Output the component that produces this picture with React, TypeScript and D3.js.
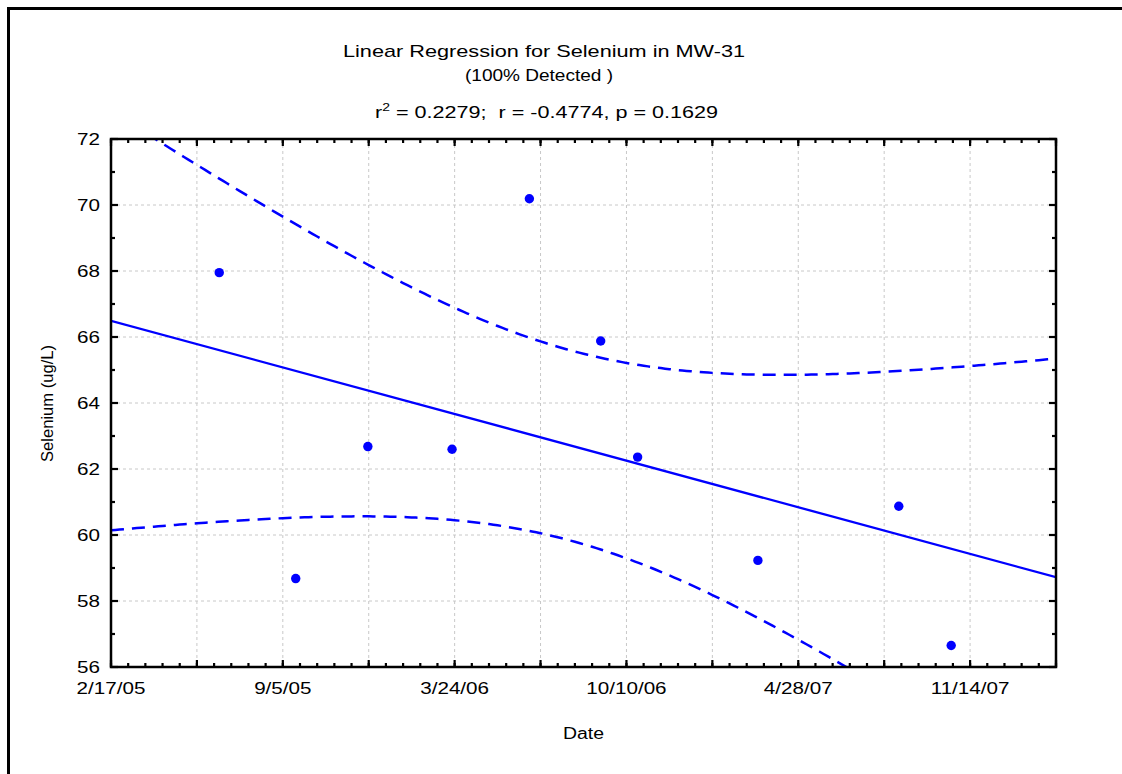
import React from 'react';
import * as d3 from 'd3';

// ---- data ----
const sampleDates = ["6/23/05", "9/20/05", "12/13/05", "3/21/06", "6/19/06", "9/10/06", "10/23/06", "3/12/07", "8/23/07", "10/23/07"];
const seleniumValues = [67.95, 58.68, 62.68, 62.6, 70.19, 65.88, 62.36, 59.23, 60.87, 56.65];
const xTickLabels = ["2/17/05", "9/5/05", "3/24/06", "10/10/06", "4/28/07", "11/14/07"];
const xDomainLabels = ["2/17/05", "2/22/08"];
const yTickValues = [56, 58, 60, 62, 64, 66, 68, 70, 72];
const yMinorValues = [57, 59, 61, 63, 65, 67, 69, 71];
const titleLine1 = "Linear Regression for Selenium in MW-31";
const titleLine2 = "(100% Detected )";
const statR2 = "0.2279";
const statR = "-0.4774";
const statP = "0.1629";
const tCritical = 2.306; // t(0.975, df = 8)

const FONT = "'Liberation Sans', Arial, Helvetica, sans-serif";
const BLUE = "#0000ff";

export default function App() {
  const W = 1122, H = 774;
  const L = 111, R = 1056, T = 139, B = 667;
  const parse = d3.utcParse("%m/%d/%y");
  const domain = xDomainLabels.map((s) => parse(s) as Date);
  const start = domain[0];
  const x = d3.scaleUtc().domain(domain).range([L, R]);
  const y = d3.scaleLinear().domain([56, 72]).range([B, T]);

  const dayMs = 864e5;
  const pts = sampleDates.map((s, i) => ({ date: parse(s) as Date, v: seleniumValues[i] }));
  const xs = pts.map((p) => (p.date.getTime() - start.getTime()) / dayMs);
  const ys = pts.map((p) => p.v);
  const n = xs.length;
  const mx = d3.mean(xs) as number;
  const my = d3.mean(ys) as number;
  const sxx = d3.sum(xs, (v) => (v - mx) ** 2);
  const sxy = d3.sum(xs.map((v, i) => (v - mx) * (ys[i] - my)));
  const slope = sxy / sxx;
  const icpt = my - slope * mx;
  const sse = d3.sum(xs.map((v, i) => (ys[i] - (icpt + slope * v)) ** 2));
  const s = Math.sqrt(sse / (n - 2));

  const totalDays = (domain[1].getTime() - start.getTime()) / dayMs;
  const samples = d3.range(0, totalDays + 0.001, totalDays / 220);
  const fit = (d: number) => icpt + slope * d;
  const hw = (d: number) => tCritical * s * Math.sqrt(1 / n + (d - mx) ** 2 / sxx);
  const dayToDate = (d: number) => new Date(start.getTime() + d * dayMs);

  const line = d3.line<[number, number]>().x((d) => d[0]).y((d) => d[1]);
  const fitPath = line([[x(dayToDate(0)), y(fit(0))], [x(dayToDate(totalDays)), y(fit(totalDays))]]);
  const upperPath = line(samples.map((d) => [x(dayToDate(d)), y(fit(d) + hw(d))] as [number, number]));
  const lowerPath = line(samples.map((d) => [x(dayToDate(d)), y(fit(d) - hw(d))] as [number, number]));

  const majorX = d3.range(0, totalDays + 0.5, 100).map((k) => d3.utcDay.offset(start, k));
  const minorX = d3.range(0, totalDays + 0.5, 20).map((k) => d3.utcDay.offset(start, k));
  const labelDates = xTickLabels.map((s) => parse(s) as Date);

  const MAJ = 7, MIN = 4;

  return (
    <svg width={W} height={H} style={{ position: 'absolute', left: 0, top: 0, background: '#fff' }} fontFamily={FONT}>
      <rect x={0} y={0} width={W} height={H} fill="#fff" />
      <rect x={8.5} y={8.5} width={1300} height={1000} fill="none" stroke="#000" strokeWidth={3} />
      <defs>
        <clipPath id="plotClip">
          <rect x={L} y={T} width={R - L} height={B - T} />
        </clipPath>
      </defs>

      {/* grid */}
      <g stroke="#c8c8c8" strokeWidth={1} strokeDasharray="3,3">
        {majorX.map((d, i) => (
          <line key={'gx' + i} x1={x(d)} x2={x(d)} y1={T} y2={B} />
        ))}
        {yTickValues.map((v) => (
          <line key={'gy' + v} x1={L} x2={R} y1={y(v)} y2={y(v)} />
        ))}
      </g>

      {/* regression + bands */}
      <g clipPath="url(#plotClip)" fill="none" stroke={BLUE}>
        <path d={fitPath || ''} strokeWidth={2.3} />
        <path d={upperPath || ''} strokeWidth={2.5} strokeDasharray="13,8" />
        <path d={lowerPath || ''} strokeWidth={2.5} strokeDasharray="13,8" />
      </g>

      {/* points */}
      <g fill={BLUE}>
        {pts.map((p, i) => (
          <circle key={'p' + i} cx={x(p.date)} cy={y(p.v)} r={4.7} />
        ))}
      </g>

      {/* ticks */}
      <g stroke="#000" strokeWidth={2.2}>
        {majorX.map((d, i) => (
          <g key={'mx' + i}>
            <line x1={x(d)} x2={x(d)} y1={B} y2={B - MAJ} />
            <line x1={x(d)} x2={x(d)} y1={T} y2={T + MAJ} />
          </g>
        ))}
        {minorX.map((d, i) => (
          <g key={'nx' + i}>
            <line x1={x(d)} x2={x(d)} y1={B} y2={B - MIN} />
            <line x1={x(d)} x2={x(d)} y1={T} y2={T + MIN} />
          </g>
        ))}
        {yTickValues.map((v) => (
          <g key={'my' + v}>
            <line x1={L} x2={L + MAJ} y1={y(v)} y2={y(v)} />
            <line x1={R} x2={R - MAJ} y1={y(v)} y2={y(v)} />
          </g>
        ))}
        {yMinorValues.map((v) => (
          <g key={'ny' + v}>
            <line x1={L} x2={L + MIN} y1={y(v)} y2={y(v)} />
            <line x1={R} x2={R - MIN} y1={y(v)} y2={y(v)} />
          </g>
        ))}
      </g>

      {/* frame */}
      <rect x={L} y={T} width={R - L} height={B - T} fill="none" stroke="#000" strokeWidth={2.5} />

      {/* tick labels */}
      <g fontSize={16} fill="#000">
        {labelDates.map((d, i) => (
          <text key={'lx' + i} transform={`translate(${x(d)},${B + 27}) scale(1.29,1)`} textAnchor="middle">
            {xTickLabels[i]}
          </text>
        ))}
        {yTickValues.map((v) => (
          <text key={'ly' + v} transform={`translate(${L - 11},${y(v) + 6}) scale(1.29,1)`} textAnchor="end">
            {String(v)}
          </text>
        ))}
      </g>

      {/* titles */}
      <g fill="#000" fontSize={17}>
        <text x={343} y={56.5} textLength={402} lengthAdjust="spacingAndGlyphs">{titleLine1}</text>
        <text x={465} y={81} textLength={148} lengthAdjust="spacingAndGlyphs">{titleLine2}</text>
        <text x={375} y={118} textLength={343} lengthAdjust="spacingAndGlyphs" style={{ whiteSpace: 'pre' }}>
          r<tspan dy={-7} fontSize={11}>2</tspan><tspan dy={7}>{` = ${statR2};  r = ${statR}, p = ${statP}`}</tspan>
        </text>
      </g>

      {/* axis titles */}
      <g fill="#000" fontSize={16}>
        <text x={563} y={739} textLength={41} lengthAdjust="spacingAndGlyphs">Date</text>
        <text transform={`translate(52.5,462) rotate(-90)`} textLength={117} lengthAdjust="spacingAndGlyphs">Selenium (ug/L)</text>
      </g>
    </svg>
  );
}
